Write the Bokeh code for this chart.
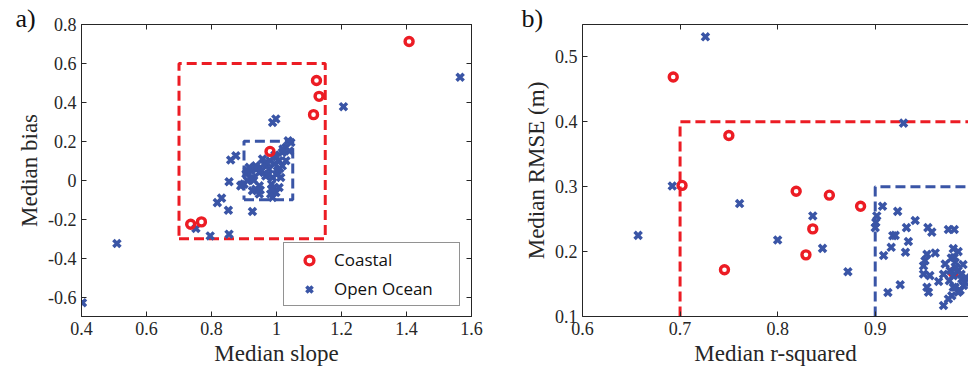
from bokeh.plotting import figure
from bokeh.layouts import row
from bokeh.models import Range1d, FixedTicker, LinearAxis, Legend, LegendItem
from bokeh.embed import file_html
from bokeh.resources import INLINE

# ---------------- data ----------------
# Panel a: median slope vs median bias
coastal_slope = [1.408, 1.123, 1.131, 1.114, 0.980, 0.736, 0.769]
coastal_bias = [0.713, 0.512, 0.431, 0.337, 0.148, -0.226, -0.214]

ocean_slope = [0.403, 0.509, 1.565, 1.206, 0.752, 0.796, 0.854, 0.852, 0.926, 0.818,
               0.831, 0.854, 0.859, 0.875, 0.892, 1.036, 1.029, 0.988, 0.998,
               0.916, 0.906, 0.900, 0.936, 0.947, 0.962, 0.977, 0.936, 0.947, 0.988,
               0.993, 0.988, 1.003, 1.008, 1.018, 1.044, 1.029, 1.013, 1.008, 0.998,
               0.926, 0.967, 0.947, 0.911, 0.957, 0.993, 1.018, 0.926, 0.982, 0.985,
               0.920, 0.940, 0.955, 0.970, 0.980, 1.000, 1.020, 1.040, 0.995, 0.930,
               0.950, 0.985, 1.000, 0.910, 1.010, 0.975, 0.890]
ocean_bias = [-0.629, -0.325, 0.529, 0.378, -0.248, -0.286, -0.277, -0.154, -0.161, -0.115,
              -0.092, -0.008, 0.104, 0.126, -0.025, 0.203, 0.168, 0.297, 0.315,
              0.066, 0.032, -0.020, 0.074, 0.040, 0.083, 0.057, -0.046, -0.071, 0.014,
              -0.037, -0.089, 0.049, 0.100, 0.143, 0.194, 0.100, 0.014, -0.037, -0.063,
              0.014, 0.022, -0.029, -0.003, 0.109, 0.083, 0.074, -0.054, -0.071, -0.046,
              0.050, 0.060, 0.050, 0.090, 0.100, 0.120, 0.160, 0.150, 0.130, 0.000,
              -0.050, -0.020, 0.030, 0.050, 0.060, 0.030, -0.029]

# Panel b: median r-squared vs median RMSE
coastal_rsq = [0.693, 0.702, 0.750, 0.7455, 0.819, 0.853, 0.836, 0.829, 0.885, 0.980]
coastal_rmse = [0.469, 0.302, 0.379, 0.172, 0.293, 0.287, 0.235, 0.195, 0.270, 0.168]

ocean_rsq = [0.726, 0.692, 0.657, 0.761, 0.800, 0.836, 0.846, 0.872, 0.929,
             0.9075, 0.923, 0.9016, 0.9006, 0.900, 0.941, 0.932, 0.954, 0.958, 0.975,
             0.981, 0.918, 0.9205, 0.934, 0.9164, 0.931, 0.9086, 0.953, 0.9615, 0.980,
             0.981, 0.951, 0.9495, 0.9495, 0.956, 0.965, 0.9717, 0.9768, 0.980, 0.985,
             0.9888, 0.9905, 0.982, 0.985, 0.9546, 0.953, 0.975, 0.970, 0.913, 0.9256,
             0.9785, 0.982, 0.992, 0.978, 0.983, 0.988, 0.976, 0.990, 0.985, 0.980,
             0.993, 0.970, 0.987]
ocean_rmse = [0.531, 0.301, 0.225, 0.274, 0.218, 0.255, 0.205, 0.169, 0.398,
              0.270, 0.262, 0.255, 0.245, 0.237, 0.248, 0.237, 0.237, 0.230, 0.234,
              0.234, 0.2246, 0.225, 0.2155, 0.2066, 0.199, 0.194, 0.196, 0.198, 0.2046,
              0.191, 0.186, 0.178, 0.1656, 0.163, 0.154, 0.181, 0.1708, 0.163, 0.171,
              0.158, 0.1477, 0.145, 0.1374, 0.1374, 0.145, 0.127, 0.117, 0.137, 0.149,
              0.132, 0.1836, 0.153, 0.190, 0.175, 0.165, 0.155, 0.180, 0.200, 0.145,
              0.160, 0.165, 0.140]

# threshold boxes
a_red_box_x = [0.7, 1.15, 1.15, 0.7, 0.7]
a_red_box_y = [-0.3, -0.3, 0.6, 0.6, -0.3]
a_blue_box_x = [0.9, 1.05, 1.05, 0.9, 0.9]
a_blue_box_y = [-0.1, -0.1, 0.2, 0.2, -0.1]
b_red_x = [0.7, 0.7, 1.0]
b_red_y = [0.1, 0.4, 0.4]
b_blue_x = [0.9, 0.9, 1.0]
b_blue_y = [0.1, 0.3, 0.3]

a_xticks = [0.4, 0.6, 0.8, 1.0, 1.2, 1.4, 1.6]
a_xlabels = ["0.4", "0.6", "0.8", "1", "1.2", "1.4", "1.6"]
a_yticks = [-0.6, -0.4, -0.2, 0.0, 0.2, 0.4, 0.6, 0.8]
a_ylabels = ["-0.6", "-0.4", "-0.2", "0", "0.2", "0.4", "0.6", "0.8"]
b_xticks = [0.6, 0.7, 0.8, 0.9, 1.0]
b_xlabels = ["0.6", "0.7", "0.8", "0.9", "1"]
b_yticks = [0.1, 0.2, 0.3, 0.4, 0.5]
b_ylabels = ["0.1", "0.2", "0.3", "0.4", "0.5"]

RED = "#ec1c24"
BLUE = "#3a55a6"
AXC = "#262626"
SERIF = "Liberation Serif"


def style_axis(ax, ticks, labels, show=True):
    ax.ticker = FixedTicker(ticks=ticks)
    ax.major_label_overrides = {t: l for t, l in zip(ticks, labels)}
    ax.minor_tick_line_color = None
    ax.major_tick_in = 5
    ax.major_tick_out = 0
    ax.axis_line_color = AXC
    ax.major_tick_line_color = AXC
    ax.major_label_text_font = SERIF
    ax.major_label_text_font_size = "18px"
    ax.major_label_text_color = AXC
    ax.major_label_standoff = 5
    ax.axis_label_text_font = SERIF
    ax.axis_label_text_font_size = "23px"
    ax.axis_label_text_font_style = "normal"
    ax.axis_label_text_color = AXC
    ax.axis_label_standoff = 3
    if not show:
        ax.major_label_text_font_size = "0px"
        ax.major_label_text_alpha = 0
        ax.major_label_standoff = 0


def panel_title(p, text, offset):
    p.title.text = text
    p.title.align = "left"
    p.title.offset = offset
    p.title.text_font = SERIF
    p.title.text_font_size = "26px"
    p.title.text_font_style = "normal"
    p.title.text_color = "#111111"
    p.title.standoff = -16
    p.title.vertical_align = "bottom"


# ---------------- panel a ----------------
pa = figure(width=484, height=373, output_backend="svg", toolbar_location=None,
            x_range=Range1d(0.4, 1.6), y_range=Range1d(-0.7, 0.8),
            min_border_left=81, min_border_right=13, min_border_top=24, min_border_bottom=57)
pa.grid.visible = False
pa.outline_line_color = AXC
pa.background_fill_color = "white"
pa.border_fill_color = "white"
pa.xaxis.axis_label = "Median slope"
pa.yaxis.axis_label = "Median bias"
style_axis(pa.xaxis[0], a_xticks, a_xlabels)
style_axis(pa.yaxis[0], a_yticks, a_ylabels)
ta = LinearAxis()
style_axis(ta, a_xticks, a_xlabels, show=False)
pa.add_layout(ta, "above")
ra = LinearAxis()
style_axis(ra, a_yticks, a_ylabels, show=False)
pa.add_layout(ra, "right")
panel_title(pa, "a)", -66)

pa.line(a_red_box_x, a_red_box_y, line_color=RED, line_width=3, line_dash="10 5")
pa.line(a_blue_box_x, a_blue_box_y, line_color=BLUE, line_width=3, line_dash="10 5")
ro_a = pa.scatter(ocean_slope, ocean_bias, marker="x", size=10, line_width=3.5,
                  line_color=BLUE)
rc_a = pa.scatter(coastal_slope, coastal_bias, marker="circle", size=8, line_width=3.4,
                  line_color=RED, fill_color="white", fill_alpha=0)

leg = Legend(items=[LegendItem(label="Coastal", renderers=[rc_a]),
                    LegendItem(label="Open Ocean", renderers=[ro_a])],
             location=(202, 10))
leg.label_text_font = "Open Sans"
leg.label_text_font_size = "17px"
leg.label_text_color = "#111111"
leg.border_line_color = AXC
leg.border_line_width = 1
leg.background_fill_color = "white"
leg.background_fill_alpha = 1
leg.padding = 5
leg.spacing = 6
leg.margin = 0
leg.glyph_width = 40
leg.glyph_height = 22
leg.label_height = 22
leg.label_standoff = 5
leg.label_width = 120
pa.add_layout(leg)

# ---------------- panel b ----------------
pb = figure(width=484, height=373, output_backend="svg", toolbar_location=None,
            x_range=Range1d(0.6, 0.9956), y_range=Range1d(0.1, 0.55),
            min_border_left=98, min_border_right=0, min_border_top=23, min_border_bottom=57)
pb.grid.visible = False
pb.outline_line_color = None
pb.background_fill_color = "white"
pb.border_fill_color = "white"
pb.xaxis.axis_label = "Median r-squared"
pb.yaxis.axis_label = "Median RMSE (m)"
style_axis(pb.xaxis[0], b_xticks, b_xlabels)
style_axis(pb.yaxis[0], b_yticks, b_ylabels)
tb = LinearAxis()
style_axis(tb, b_xticks, b_xlabels, show=False)
pb.add_layout(tb, "above")
panel_title(pb, "b)", -61)

pb.line(b_red_x, b_red_y, line_color=RED, line_width=3, line_dash="10 5")
pb.line(b_blue_x, b_blue_y, line_color=BLUE, line_width=3, line_dash="10 5")
pb.scatter(coastal_rsq, coastal_rmse, marker="circle", size=8, line_width=3.4,
           line_color=RED, fill_color="white", fill_alpha=0)
pb.scatter(ocean_rsq, ocean_rmse, marker="x", size=10, line_width=3.5, line_color=BLUE)

layout = row(pa, pb)
open("out.html", "w").write(file_html(layout, INLINE))
